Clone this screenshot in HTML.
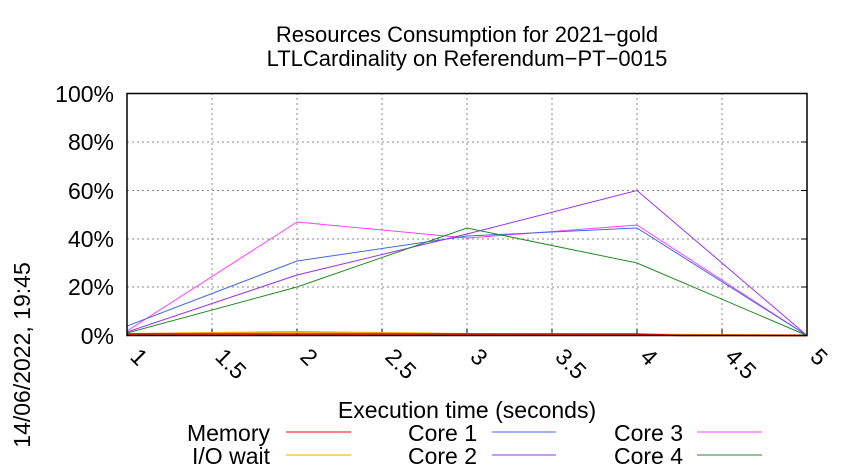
<!DOCTYPE html>
<html><head><style>body{margin:0;background:#fff}svg{display:block}text{font-family:"Liberation Sans",sans-serif}</style></head>
<body>
<svg width="850" height="475" viewBox="0 0 850 475" xmlns="http://www.w3.org/2000/svg">
<g font-size="22" text-anchor="middle" fill="#000">
<text x="467" y="42">Resources Consumption for 2021−gold</text>
<text x="467" y="66">LTLCardinality on Referendum−PT−0015</text>
</g>
<g stroke="#888" stroke-width="1" stroke-dasharray="2,3">
<line x1="127" y1="93.5" x2="807" y2="93.5"/><line x1="127" y1="142" x2="807" y2="142"/><line x1="127" y1="190.5" x2="807" y2="190.5"/><line x1="127" y1="239" x2="807" y2="239"/><line x1="127" y1="287" x2="807" y2="287"/>
<line x1="212" y1="93" x2="212" y2="335"/><line x1="297" y1="93" x2="297" y2="335"/><line x1="382" y1="93" x2="382" y2="335"/><line x1="467" y1="93" x2="467" y2="335"/><line x1="552" y1="93" x2="552" y2="335"/><line x1="637" y1="93" x2="637" y2="335"/><line x1="722" y1="93" x2="722" y2="335"/>
</g>
<g stroke="#000" stroke-width="1">
<line x1="212" y1="335" x2="212" y2="329"/><line x1="297" y1="335" x2="297" y2="329"/><line x1="382" y1="335" x2="382" y2="329"/><line x1="467" y1="335" x2="467" y2="329"/><line x1="552" y1="335" x2="552" y2="329"/><line x1="637" y1="335" x2="637" y2="329"/><line x1="722" y1="335" x2="722" y2="329"/>
<line x1="801" y1="93.5" x2="807" y2="93.5"/><line x1="801" y1="142" x2="807" y2="142"/><line x1="801" y1="190.5" x2="807" y2="190.5"/><line x1="801" y1="239" x2="807" y2="239"/><line x1="801" y1="287" x2="807" y2="287"/>
</g>
<g fill="none" stroke-width="1">
<polyline stroke="#ff40ff" points="127,331 297,222 467,238 637,225 807,335.5"/>
<polyline stroke="#4169e1" points="127,326 297,261 467,236 637,228 807,335.5"/>
<polyline stroke="#9932f0" points="127,332 297,275 467,234 637,190.5 807,335.5"/>
<polyline stroke="#228b22" points="127,333 297,287 467,228 637,263 807,335.5"/>
<polyline stroke="#ffa500" stroke-width="2" points="127,334 297,332 467,334 637,334.5 807,335.5"/>
<polyline stroke="#ff0000" stroke-width="1.5" points="127,334 297,334 467,334 637,334 680,335.5 807,335.5"/>
</g>
<rect x="127" y="93.5" width="680" height="242" fill="none" stroke="#000" stroke-width="1.5"/>
<g font-size="23" text-anchor="end">
<text x="114" y="102">100%</text><text x="114" y="150">80%</text><text x="114" y="199">60%</text><text x="114" y="247">40%</text><text x="114" y="295">20%</text><text x="114" y="344">0%</text>
</g>
<g font-size="23">
<text transform="translate(129,358) rotate(45)">1</text>
<text transform="translate(214,358) rotate(45)">1.5</text>
<text transform="translate(299,358) rotate(45)">2</text>
<text transform="translate(384,358) rotate(45)">2.5</text>
<text transform="translate(469,358) rotate(45)">3</text>
<text transform="translate(554,358) rotate(45)">3.5</text>
<text transform="translate(639,358) rotate(45)">4</text>
<text transform="translate(724,358) rotate(45)">4.5</text>
<text transform="translate(809,358) rotate(45)">5</text>
</g>
<text x="467" y="418" font-size="23" text-anchor="middle">Execution time (seconds)</text>
<text transform="translate(30,355) rotate(-90)" font-size="23" text-anchor="middle">14/06/2022, 19:45</text>
<g font-size="23" text-anchor="end">
<text x="270" y="441">Memory</text><text x="270" y="464">I/O wait</text>
<text x="477" y="441">Core 1</text><text x="477" y="464">Core 2</text>
<text x="683" y="441">Core 3</text><text x="683" y="464">Core 4</text>
</g>
<g stroke-width="1">
<line x1="286" y1="432" x2="351" y2="432" stroke="#ff0000"/>
<line x1="286" y1="455" x2="351" y2="455" stroke="#ffa500"/>
<line x1="492" y1="432" x2="556" y2="432" stroke="#4169e1"/>
<line x1="492" y1="455" x2="556" y2="455" stroke="#9932f0"/>
<line x1="697" y1="432" x2="762" y2="432" stroke="#ff40ff"/>
<line x1="697" y1="455" x2="762" y2="455" stroke="#228b22"/>
</g>
</svg>
</body></html>
